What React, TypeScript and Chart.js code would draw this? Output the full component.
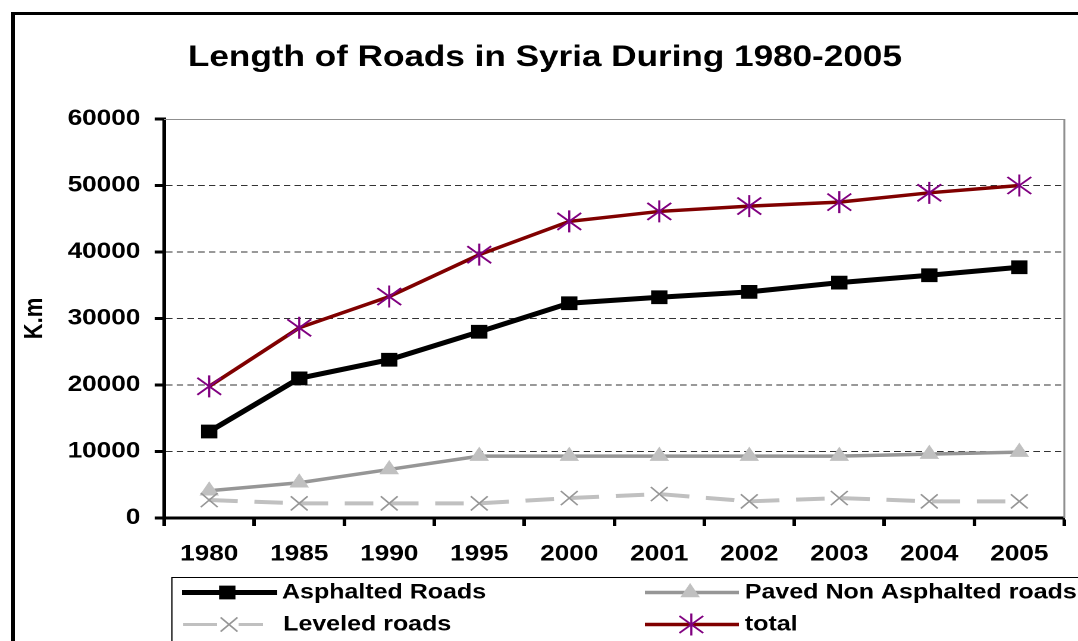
import React, { useEffect, useRef } from 'react';
import { Chart, registerables } from 'chart.js';
import { drawPoint } from 'chart.js/helpers';

Chart.register(...registerables);

// Road network length in Syria, km
const years = ['1980', '1985', '1990', '1995', '2000', '2001', '2002', '2003', '2004', '2005'];
const asphaltedRoads = [13000, 21000, 23800, 28000, 32300, 33200, 34000, 35400, 36500, 37700];
const pavedNonAsphalted = [4100, 5300, 7300, 9300, 9300, 9300, 9300, 9300, 9600, 9900];
const leveledRoads = [2700, 2200, 2200, 2200, 3000, 3600, 2500, 3000, 2500, 2500];
const totalRoads = [19800, 28600, 33300, 39600, 44600, 46100, 46900, 47500, 48900, 50000];
const kmTicks = [0, 10000, 20000, 30000, 40000, 50000, 60000];
const seriesNames = ['Asphalted Roads', 'Paved Non Asphalted roads', 'Leveled roads', 'total'];
const chartTitle = 'Length of Roads in Syria During 1980-2005';
const axisTitle = 'K.m';

// The chart is laid out on a narrower canvas and widened horizontally.
const W = 906;
const H = 641;
const STRETCH = 1078 / W;
const FONT = '"Liberation Sans", Arial, Helvetica, sans-serif';

function drawAsterisk(ctx: CanvasRenderingContext2D, x: number, y: number) {
  ctx.save();
  ctx.strokeStyle = '#800080';
  ctx.lineWidth = 1.8;
  ctx.beginPath();
  ctx.moveTo(x, y - 11);
  ctx.lineTo(x, y + 11);
  ctx.moveTo(x - 10, y - 8.5);
  ctx.lineTo(x + 10, y + 8.5);
  ctx.moveTo(x - 10, y + 8.5);
  ctx.lineTo(x + 10, y - 8.5);
  ctx.stroke();
  ctx.restore();
}

// Thin grey frame on the top and right of the plot area
const plotFrame = {
  id: 'plotFrame',
  beforeDatasetsDraw(chart: any) {
    const { ctx, chartArea: a } = chart;
    ctx.save();
    ctx.strokeStyle = '#8f8f8f';
    ctx.lineWidth = 1;
    ctx.beginPath();
    ctx.moveTo(a.left, a.top + 0.5);
    ctx.lineTo(a.right, a.top + 0.5);
    ctx.stroke();
    ctx.lineWidth = 1.6;
    ctx.beginPath();
    ctx.moveTo(a.right, a.top);
    ctx.lineTo(a.right, a.bottom);
    ctx.stroke();
    ctx.restore();
  },
};

// Asterisk markers for the "total" series, placed at the line's points
const asteriskMarkers = {
  id: 'asteriskMarkers',
  afterDatasetsDraw(chart: any) {
    const ctx = chart.ctx;
    chart.data.datasets.forEach((ds: any, i: number) => {
      if (!ds.asterisk) return;
      chart.getDatasetMeta(i).data.forEach((pt: any) => drawAsterisk(ctx, pt.x, pt.y));
    });
  },
};

// Boxed two-column legend below the axis
const boxedLegend = {
  id: 'boxedLegend',
  afterDraw(chart: any) {
    const ctx: CanvasRenderingContext2D = chart.ctx;
    const slots = [
      { x0: 153, x1: 233, mx: 191, tx: 237, y: 592.5 },
      { x0: 542, x1: 621, mx: 580, tx: 626, y: 592.5 },
      { x0: 154, x1: 221, mx: 192.5, tx: 238, y: 624.5 },
      { x0: 542, x1: 621, mx: 581, tx: 626, y: 624.5 },
    ];
    ctx.save();
    ctx.strokeStyle = '#000';
    ctx.lineWidth = 1;
    ctx.strokeRect(144.5, 577.5, 900, 200);
    chart.data.datasets.forEach((ds: any, i: number) => {
      const s = slots[i];
      ctx.save();
      ctx.strokeStyle = ds.borderColor;
      ctx.lineWidth = ds.legendLineWidth || ds.borderWidth;
      ctx.beginPath();
      if (ds.borderDash) {
        ctx.moveTo(s.x0, s.y);
        ctx.lineTo(s.mx - 10, s.y);
        ctx.moveTo(s.mx + 8, s.y);
        ctx.lineTo(s.x1, s.y);
      } else {
        ctx.moveTo(s.x0, s.y);
        ctx.lineTo(s.x1, s.y);
      }
      ctx.stroke();
      ctx.restore();
      if (ds.asterisk) {
        drawAsterisk(ctx, s.mx, s.y);
      } else {
        ctx.save();
        ctx.fillStyle = ds.pointBackgroundColor || ds.borderColor;
        ctx.strokeStyle = ds.pointBorderColor || ds.borderColor;
        ctx.lineWidth = ds.pointBorderWidth;
        drawPoint(ctx, {
          pointStyle: ds.pointStyle,
          radius: ds.pointRadius,
          borderWidth: ds.pointBorderWidth,
          rotation: 0,
        } as any, s.mx, s.y);
        ctx.restore();
      }
      ctx.fillStyle = '#000';
      ctx.font = `bold 21px ${FONT}`;
      ctx.textBaseline = 'middle';
      ctx.textAlign = 'left';
      ctx.fillText(ds.label, s.tx, s.y);
    });
    ctx.restore();
  },
};

export default function App() {
  const canvasRef = useRef<HTMLCanvasElement>(null);

  useEffect(() => {
    const canvas = canvasRef.current;
    if (!canvas) return;
    const tickFont = { family: FONT, size: 22, weight: 'bold' as const };
    const chart = new Chart(canvas, {
      type: 'line',
      data: {
        labels: years,
        datasets: [
          {
            label: seriesNames[0],
            data: asphaltedRoads,
            borderColor: '#000000',
            backgroundColor: '#000000',
            borderWidth: 5,
            pointStyle: 'rect',
            pointRadius: 9,
            pointBorderWidth: 1,
            pointBackgroundColor: '#000000',
            pointBorderColor: '#000000',
            order: 1,
          } as any,
          {
            label: seriesNames[1],
            data: pavedNonAsphalted,
            borderColor: '#969696',
            backgroundColor: '#c0c0c0',
            borderWidth: 3.5,
            pointStyle: 'triangle',
            pointRadius: 8.5,
            pointBorderWidth: 1,
            pointBackgroundColor: '#c0c0c0',
            pointBorderColor: '#c0c0c0',
            order: 1,
          },
          {
            label: seriesNames[2],
            data: leveledRoads,
            borderColor: '#c0c0c0',
            backgroundColor: '#c0c0c0',
            borderWidth: 4,
            legendLineWidth: 3,
            borderDash: [24, 14],
            pointStyle: 'crossRot',
            pointRadius: 10,
            pointBorderWidth: 1.5,
            pointBackgroundColor: '#969696',
            pointBorderColor: '#969696',
            order: 0,
          } as any,
          {
            label: seriesNames[3],
            data: totalRoads,
            borderColor: '#800000',
            backgroundColor: '#800000',
            borderWidth: 3.5,
            pointRadius: 0,
            asterisk: true,
            order: 1,
          } as any,
        ],
      },
      options: {
        responsive: false,
        animation: false,
        devicePixelRatio: 2,
        events: [],
        layout: { padding: { top: 0, left: 16, right: 6, bottom: 73 } },
        plugins: {
          legend: { display: false },
          tooltip: { enabled: false },
          title: {
            display: true,
            text: chartTitle,
            color: '#000',
            font: { family: FONT, size: 29.5, weight: 'bold' },
            padding: { top: 40, bottom: 43.6 },
          },
        },
        scales: {
          x: {
            type: 'category',
            offset: true,
            grid: {
              display: true,
              offset: true,
              drawOnChartArea: false,
              drawTicks: true,
              tickLength: 8,
              tickWidth: 3,
              tickColor: '#000',
            },
            border: { display: true, color: '#000', width: 3 },
            ticks: { color: '#000', font: tickFont, padding: 15, maxRotation: 0, autoSkip: false },
            afterFit: (axis: any) => {
              axis.height = 50;
            },
          },
          y: {
            min: 0,
            max: 60000,
            afterBuildTicks: (axis: any) => {
              axis.ticks = kmTicks.map((v) => ({ value: v }));
            },
            grid: {
              color: (c: any) => (c.tick && c.tick.value === 60000 ? 'rgba(0,0,0,0)' : '#333333'),
              lineWidth: 1,
              tickLength: 8,
              tickWidth: 3,
              tickColor: '#000',
            },
            border: { display: true, color: '#000', width: 3, dash: [5.5, 3.5] },
            ticks: { color: '#000', font: tickFont, padding: 12, callback: (v: any) => String(v) },
            title: {
              display: true,
              text: axisTitle,
              color: '#000',
              font: { family: FONT, size: 22, weight: 'bold' },
              padding: { top: 0, bottom: 0 },
            },
            afterFit: (axis: any) => {
              axis.width = 122;
            },
          },
        },
      },
      plugins: [plotFrame, asteriskMarkers, boxedLegend],
    });
    return () => chart.destroy();
  }, []);

  return (
    <div
      style={{
        position: 'fixed',
        left: 0,
        top: 0,
        width: 1078,
        height: 641,
        overflow: 'hidden',
        background: '#fff',
      }}
    >
      <div
        style={{
          position: 'absolute',
          left: 11,
          top: 12,
          width: 1200,
          height: 800,
          borderLeft: '4px solid #000',
          borderTop: '3px solid #000',
        }}
      />
      <div
        style={{
          position: 'absolute',
          left: 0,
          top: 0,
          width: W,
          height: H,
          transform: `scaleX(${STRETCH})`,
          transformOrigin: '0 0',
        }}
      >
        <canvas ref={canvasRef} width={W} height={H} style={{ display: 'block' }} />
      </div>
    </div>
  );
}
